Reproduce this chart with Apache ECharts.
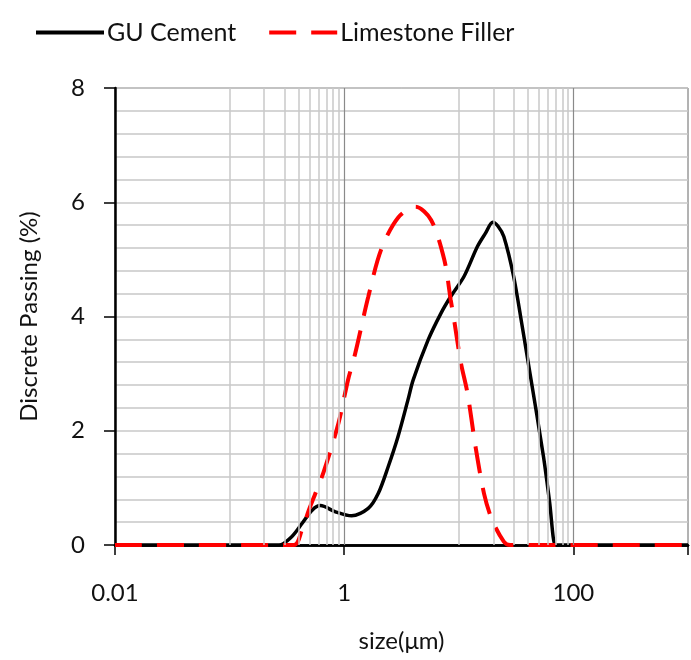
<!DOCTYPE html>
<html>
<head>
<meta charset="utf-8">
<script src="https://cdn.jsdelivr.net/npm/echarts@6/dist/echarts.min.js"></script>
<style>
html,body{margin:0;padding:0;background:#fff;}
#chart{width:691px;height:660px;}
</style>
</head>
<body>
<div id="chart"></div>
<script>
// ---- data ----
const guSize = [0.01, 0.27, 0.35, 0.43, 0.525, 0.62, 0.84, 1.16, 1.62, 1.98, 2.42, 2.95, 3.6, 4.0, 5.4, 7.0, 8.5, 11.1, 14.5, 17, 19.8, 22, 24.7, 30.1, 35.6, 42, 54.8, 62, 69, 70, 1000];
const guPassing = [0, 0, 0.15, 0.38, 0.61, 0.69, 0.58, 0.51, 0.64, 0.9, 1.37, 1.9, 2.54, 2.89, 3.59, 4.06, 4.35, 4.7, 5.22, 5.45, 5.65, 5.58, 5.4, 4.7, 3.85, 2.98, 1.55, 0.75, 0, 0, 0];
const lfSize = [0.01, 0.364, 0.427, 0.491, 0.662, 0.893, 1.08, 1.25, 1.62, 2.1, 2.95, 4.2, 5.73, 7.48, 8.5, 9.1, 10.4, 11.9, 14.0, 16.6, 19.5, 24.7, 28, 1000];
const lfPassing = [0, 0, 0.26, 0.61, 1.28, 2.14, 2.89, 3.36, 4.34, 5.17, 5.73, 5.92, 5.69, 4.99, 4.29, 3.94, 3.2, 2.66, 1.72, 0.9, 0.44, 0.06, 0, 0];
const xTickLabels = [0.01, 1, 100];
const yTicks = [0, 2, 4, 6, 8];
const minorGridX = [0.1, 0.2, 0.3, 0.4, 0.5, 0.6, 0.7, 0.8, 0.9, 10, 20, 30, 40, 50, 60, 70, 80, 90];
const majorGridX = [1, 100];
const seriesNames = ['GU Cement', 'Limestone Filler'];

const FONT = 'Lato';
const pair = (xs, ys) => xs.map((x, i) => [x, ys[i]]);

const chart = echarts.init(document.getElementById('chart'), null, {renderer: 'canvas'});
chart.setOption({
  animation: false,
  backgroundColor: '#fff',
  textStyle: {fontFamily: FONT},
  legend: {
    top: 15,
    left: 29,
    itemWidth: 68,
    itemHeight: 14,
    itemGap: 31,
    itemStyle: {opacity: 0},
    lineStyle: {width: 4},
    textStyle: {fontFamily: FONT, fontSize: 25, color: '#111', padding: [0, 0, 0, -2]},
    data: seriesNames
  },
  grid: {
    left: 115, right: 1, top: 88, bottom: 115,
    show: true, borderColor: '#666', borderWidth: 1
  },
  xAxis: [{
    type: 'log', logBase: 10, min: 0.01, max: 1000, interval: 2,
    name: 'size(\u03bcm)', nameLocation: 'middle', nameGap: 84,
    nameTextStyle: {fontFamily: FONT, fontSize: 24, color: '#111'},
    axisLine: {show: true, onZero: false, lineStyle: {color: '#000', width: 2.5}},
    axisTick: {show: true, inside: false, length: 10, lineStyle: {color: '#000', width: 1.5}},
    axisLabel: {
      fontFamily: FONT, fontSize: 24, color: '#111', margin: 36,
      formatter: v => xTickLabels.some(t => Math.abs(t - v) / t < 1e-6) ? String(v) : ''
    },
    splitLine: {show: false}, minorSplitLine: {show: false}
  }, {
    type: 'log', logBase: 10, min: 0.01, max: 1000, position: 'top',
    axisLine: {show: true, lineStyle: {color: '#000', width: 2.5}},
    axisTick: {show: false}, axisLabel: {show: false}, splitLine: {show: false}
  }],
  yAxis: {
    type: 'value', min: yTicks[0], max: yTicks[yTicks.length - 1], interval: 2,
    name: 'Discrete Passing (%)', nameLocation: 'middle', nameGap: 74,
    nameTextStyle: {fontFamily: FONT, fontSize: 24, color: '#111'},
    axisLine: {show: true, lineStyle: {color: '#000', width: 2.5}},
    axisTick: {show: true, inside: false, length: 11, lineStyle: {color: '#000', width: 1.5}},
    axisLabel: {fontFamily: FONT, fontSize: 24, color: '#111', margin: 30},
    splitLine: {show: true, lineStyle: {color: '#c8c8c8', width: 1.5}},
    minorTick: {show: false, splitNumber: 5},
    minorSplitLine: {show: true, lineStyle: {color: '#c8c8c8', width: 1.5}}
  },
  series: [{
    name: 'grid-lines', type: 'line', data: [], silent: true,
    markLine: {
      silent: true, symbol: ['none', 'none'], animation: false,
      label: {show: false},
      data: minorGridX.map(v => ({xAxis: v, lineStyle: {color: '#c8c8c8', width: 1.5, type: 'solid'}}))
        .concat(majorGridX.map(v => ({xAxis: v, lineStyle: {color: '#8a8a8a', width: 1.2, type: 'solid'}})))
    }
  }, {
    name: seriesNames[0], type: 'line', data: pair(guSize, guPassing),
    smooth: 0.3, symbol: 'none', z: 3,
    lineStyle: {color: '#000', width: 3.5},
    itemStyle: {color: '#000'}
  }, {
    name: seriesNames[1], type: 'line', data: pair(lfSize, lfPassing),
    smooth: 0.3, symbol: 'none', z: 4,
    lineStyle: {color: '#ff0000', width: 4, type: [27, 15]},
    itemStyle: {color: '#ff0000'}
  }]
});
</script>
</body>
</html>
